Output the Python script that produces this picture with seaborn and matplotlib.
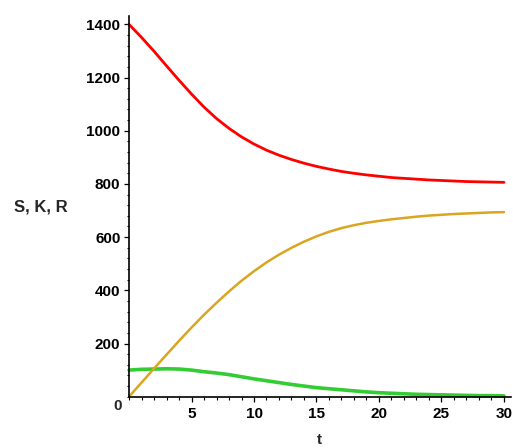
import matplotlib
matplotlib.use("Agg")
import matplotlib.pyplot as plt
import seaborn as sns
import pandas as pd
from matplotlib.ticker import MultipleLocator

# values, one per time unit
t = list(range(31))
S = [1400, 1351, 1299, 1244, 1190, 1138, 1089, 1046, 1009, 977, 950,
     927, 908, 892, 878, 866, 856, 847, 840, 834, 829,
     824, 821, 818, 815, 813, 811, 809, 808, 807, 806]
K = [0, 53, 106, 158, 210, 260, 308, 353, 396, 436, 472,
     505, 534, 560, 583, 603, 620, 634, 645, 654, 661,
     667, 672, 677, 681, 684, 687, 689, 691, 693, 694]
R = [100, 103, 104, 105, 104, 100, 94, 89, 83, 75, 67,
     60, 53, 46, 40, 34, 30, 26, 22, 18, 15,
     13, 11, 9, 8, 7, 6, 5, 4, 4, 3]

x_ticks = [5, 10, 15, 20, 25, 30]
y_ticks = [200, 400, 600, 800, 1000, 1200, 1400]

df = pd.DataFrame({"t": t * 3,
                   "value": S + K + R,
                   "series": ["S"] * len(t) + ["K"] * len(t) + ["R"] * len(t)})

sns.set_style("ticks")
plt.rcParams["font.family"] = ["Liberation Sans", "DejaVu Sans"]

fig = plt.figure(figsize=(5.13, 4.48), dpi=100)
ax = fig.add_axes([0.2515, 0.1145, 0.7455, 0.8495])

colors = {"S": "#ff0000", "K": "#daa520", "R": "#33cc33"}
widths = {"S": 2.0, "K": 1.8, "R": 2.6}
for name in ["R", "K", "S"]:
    sns.lineplot(data=df[df["series"] == name], x="t", y="value", color=colors[name],
                 linewidth=widths[name], ax=ax, legend=False, clip_on=False)

ax.set_xlim(0, 30.6)
ax.set_ylim(0, 1431)
for side in ["top", "right"]:
    ax.spines[side].set_visible(False)
for side in ["left", "bottom"]:
    ax.spines[side].set_linewidth(1.2)
    ax.spines[side].set_color("black")

ax.set_xticks(x_ticks)
ax.set_yticks(y_ticks)
ax.xaxis.set_minor_locator(MultipleLocator(1))
ax.yaxis.set_minor_locator(MultipleLocator(40))
ax.tick_params(axis="both", which="major", direction="out", length=3.6, width=0.9,
               colors="black", labelsize=11, bottom=True, left=True)
ax.tick_params(axis="both", which="minor", direction="out", length=1.8, width=0.8,
               colors="black", bottom=True, left=True)
ax.tick_params(axis="y", which="major", pad=2.6)
ax.tick_params(axis="x", which="major", pad=4.0)
for lab in ax.get_xticklabels() + ax.get_yticklabels():
    lab.set_fontweight("bold")

ax.set_xlabel("")
ax.set_ylabel("")
ax.text(-0.55, -8, "0", transform=ax.transData, ha="right", va="top",
        fontsize=11, fontweight="bold", clip_on=False)
fig.text(41 / 513, 1 - 207 / 448, "S, K, R", ha="center", va="center",
         fontsize=12, fontweight="bold")
fig.text(319 / 513, 1 - 447 / 448, "t", ha="center", va="bottom",
         fontsize=11, fontweight="bold")

fig.savefig("out.png", dpi=100)
